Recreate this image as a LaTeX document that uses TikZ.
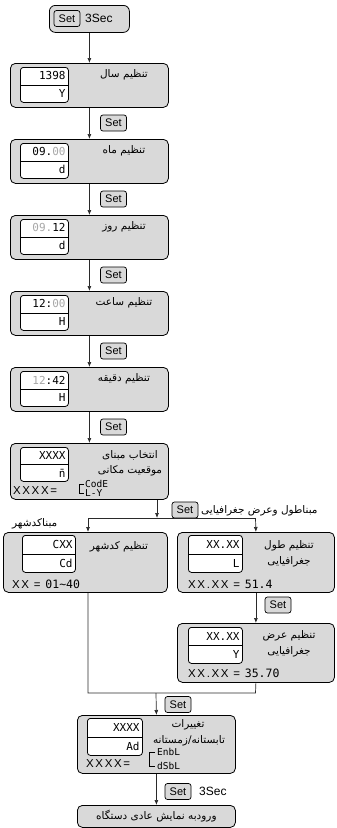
\documentclass[tikz,border=0pt]{standalone}
\usepackage{fontspec}
\setmainfont{Liberation Sans}
\newfontfamily\fa[Script=Arabic]{DejaVu Sans}
\newfontfamily\seg{DejaVu Sans Mono}
\newfontfamily\spaced[LetterSpace=14]{Liberation Sans}
\TeXXeTstate=1
\usetikzlibrary{arrows.meta,calc}
\definecolor{boxgray}{HTML}{D9D9D9}
\definecolor{linegray}{HTML}{2A2A2A}
\definecolor{lite}{HTML}{A8A8A8}
\newcommand\mydisp[7]{%
  \node[disp, minimum width=#4pt, minimum height=#5pt] (#1) at (#2,#3) {};
  \draw[line width=0.8pt] (#1.west) -- (#1.east);
  \path ($(#1.north east)!0.5!(#1.east)$) ++(-3,0) node[segtxt, anchor=east] (#1t) {#6};
  \path ($(#1.east)!0.5!(#1.south east)$) ++(-3,0) node[segtxt, anchor=east] (#1b) {#7};
}
\begin{document}
\begin{tikzpicture}[x=1pt,y=-1pt,
 panel/.style={draw=black, fill=boxgray, rounded corners=5pt, line width=0.8pt, anchor=north west, inner sep=0pt},
 setbox/.style={draw=black, fill=boxgray, rounded corners=2.5pt, line width=0.7pt, minimum width=26pt, minimum height=16pt, inner sep=0pt, font=\fontsize{11}{11}\selectfont},
 disp/.style={draw=black, fill=white, rounded corners=3pt, line width=0.8pt, anchor=north west, inner sep=0pt},
 arr/.style={-{Latex[length=5pt,width=4pt]}, line width=0.7pt, draw=linegray},
 conn/.style={line width=0.7pt, draw=linegray},
 fatxt/.style={font=\fa\fontsize{10.5}{12}\selectfont, inner sep=0pt},
 segtxt/.style={font=\seg\fontsize{11}{11}\selectfont, inner sep=0pt},
 codetxt/.style={font=\seg\fontsize{9.5}{9.5}\selectfont, inner sep=0pt, anchor=west},
 lbl/.style={font=\fontsize{12}{12}\selectfont, inner sep=0pt},
 big/.style={font=\spaced\fontsize{11.5}{11.5}\selectfont, inner sep=0pt},
]
\useasboundingbox (0,0) rectangle (337,828);

% top pill
\node[panel, rounded corners=6pt, minimum width=80pt, minimum height=27pt] (pill) at (49,5) {};
\node[setbox] (pillset) at (67,18.5) {Set};
\node[lbl, anchor=west] (pill3) at (85,18.5) {3Sec};

% column boxes
\node[panel, minimum width=158pt, minimum height=44pt] (b1) at (10,63) {};
\mydisp{d1}{20}{67}{48}{35}{1398}{Y}
\node[fatxt] (t1) at (124,75) {\beginR تنظیم سال\endR};

\node[panel, minimum width=158pt, minimum height=44pt] (b2) at (10,139) {};
\mydisp{d2}{20}{143}{48}{35}{09.\textcolor{lite}{00}}{d}
\node[fatxt] (t2) at (124,151) {\beginR تنظیم ماه\endR};

\node[panel, minimum width=158pt, minimum height=44pt] (b3) at (10,215) {};
\mydisp{d3}{20}{219}{48}{35}{\textcolor{lite}{09.}12}{d}
\node[fatxt] (t3) at (124,227) {\beginR تنظیم روز\endR};

\node[panel, minimum width=158pt, minimum height=44pt] (b4) at (10,291) {};
\mydisp{d4}{20}{295}{48}{35}{12:\textcolor{lite}{00}}{H}
\node[fatxt] (t4) at (124,303) {\beginR تنظیم ساعت\endR};

\node[panel, minimum width=158pt, minimum height=44pt] (b5) at (10,367) {};
\mydisp{d5}{20}{371}{48}{35}{\textcolor{lite}{12}:42}{H}
\node[fatxt] (t5) at (124,379) {\beginR تنظیم دقیقه\endR};

\node[panel, minimum width=158pt, minimum height=56pt] (b6) at (10,443) {};
\mydisp{d6}{20}{447}{48}{34}{XXXX}{n\char"0304}
\node[fatxt] (t6a) at (130,455) {\beginR انتخاب مبنای\endR};
\node[fatxt] (t6b) at (130,471) {\beginR موقعیت مکانی\endR};
\node[big, anchor=west] (x6) at (13,491) {XXXX=};
\draw[line width=0.7pt] (84,484) -- (79,484) -- (79,493) -- (84,493);
\node[codetxt] (c6a) at (85,484) {CodE};
\node[codetxt] (c6b) at (85,493) {L-Y};

% set labels in column
\node[setbox] (s1) at (113.5,123) {Set};
\node[setbox] (s2) at (113.5,199) {Set};
\node[setbox] (s3) at (113.5,275) {Set};
\node[setbox] (s4) at (113.5,351) {Set};
\node[setbox] (s5) at (113.5,427) {Set};

\draw[arr] (pill.south) -- (b1.north);
\draw[arr] (b1.south) -- (b2.north);
\draw[arr] (b2.south) -- (b3.north);
\draw[arr] (b3.south) -- (b4.north);
\draw[arr] (b4.south) -- (b5.north);
\draw[arr] (b5.south) -- (b6.north);

% split
\coordinate (split) at (157,518);
\coordinate (lsplit) at (88,518);
\coordinate (rsplit) at (255.5,518);
\draw[arr] (b6.south -| split) -- (split);
\node[setbox] (s6) at (185,510) {Set};
\node[fatxt, anchor=west] (t7) at (201,511) {\beginR مبناطول وعرض جغرافیایی\endR};
\node[fatxt, anchor=west] (t8) at (12,524) {\beginR مبناکدشهر\endR};

% left box
\node[panel, minimum width=164pt, minimum height=60pt] (lb) at (3,532) {};
\mydisp{d7}{22}{535}{53}{37}{CXX}{Cd}
\node[fatxt] (t9) at (119,547) {\beginR تنظیم کدشهر\endR};
\node[big, anchor=west] (x7) at (12,584) {XX = {\seg 01\textasciitilde 40}};

% right box
\node[panel, minimum width=157pt, minimum height=60pt] (rb) at (177,532) {};
\mydisp{d8}{188}{535}{54}{37}{XX.XX}{L}
\node[fatxt] (t10) at (289,546) {\beginR تنظیم طول\endR};
\node[fatxt] (t11) at (289,562) {\beginR جغرافیایی\endR};
\node[big, anchor=west] (x8) at (188,584) {XX.XX = {\seg 51.4}};

\draw[conn] (lsplit) -- (rsplit);
\draw[arr] (lsplit) -- (lsplit |- lb.north);
\draw[arr] (rsplit) -- (rb.north);

% latitude box
\node[panel, minimum width=157pt, minimum height=59pt] (rw) at (177,623) {};
\mydisp{d9}{188}{627}{54}{36}{XX.XX}{Y}
\node[fatxt] (t12) at (289,636) {\beginR تنظیم عرض\endR};
\node[fatxt] (t13) at (289,652) {\beginR جغرافیایی\endR};
\node[big, anchor=west] (x9) at (188,673) {XX.XX = {\seg 35.70}};
\node[setbox] (s7) at (278,605) {Set};
\draw[arr] (rb.south) -- (rw.north);

% join
\coordinate (jl) at (88,693);
\coordinate (jr) at (255.5,693);
\coordinate (jm) at (156,693);
\draw[conn] (lb.south -| jl) -- (jl) -- (jr) -- (rw.south);

% DST box
\node[panel, minimum width=158pt, minimum height=58pt] (ds) at (77,715) {};
\mydisp{d10}{87}{718}{55}{37}{XXXX}{Ad}
\node[fatxt] (t14) at (188,725) {\beginR تغییرات\endR};
\node[fatxt] (t15) at (189,741) {\beginR تابستانه/زمستانه\endR};
\node[big, anchor=west] (x10) at (86,764) {XXXX=};
\draw[line width=0.7pt] (155,752) -- (149,752) -- (149,766) -- (155,766);
\node[codetxt] (c10a) at (157,752) {EnbL};
\node[codetxt] (c10b) at (157,766) {dSbL};
\node[setbox] (s8) at (178,704.5) {Set};
\draw[arr] (jm) -- (ds.north);

% final
\node[panel, minimum width=158pt, minimum height=22pt] (fin) at (77,805) {};
\node[fatxt] (t16) at (fin.center) {\beginR ورودبه نمایش عادی دستگاه\endR};
\node[setbox] (s9) at (178,791.5) {Set};
\node[lbl, anchor=west] (s9t) at (199,791.5) {3Sec};
\draw[arr] (ds.south) -- (fin.north);
\end{tikzpicture}
\end{document}
